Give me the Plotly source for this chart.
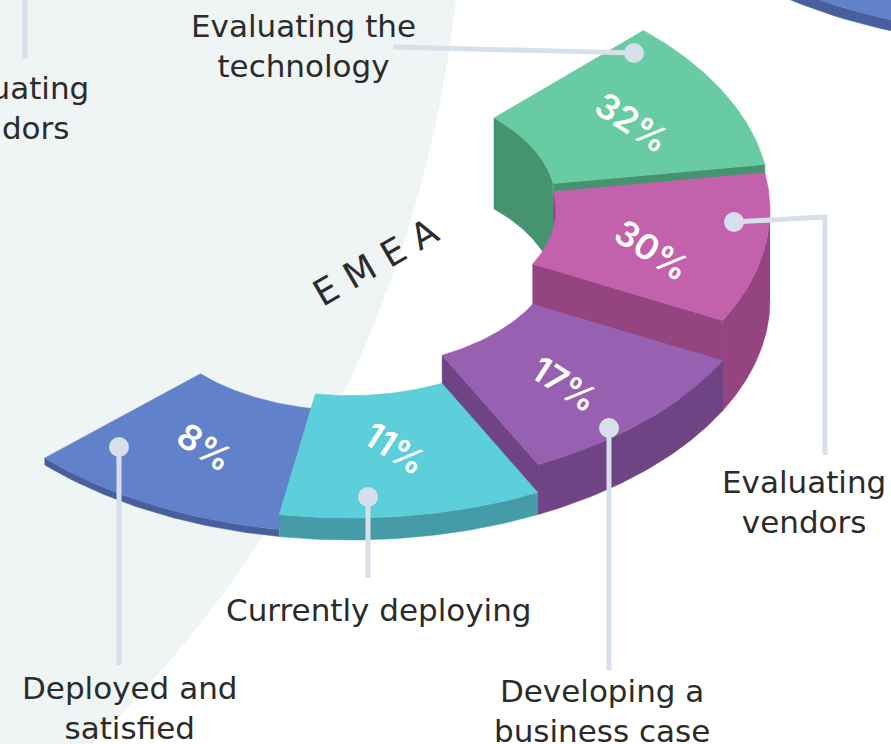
#!/usr/bin/env python3
# plot.py - EMEA isometric ring, drawn as filled polygons on hidden pixel axes

import numpy as np
import plotly.graph_objects as go

W, H = 891, 744

# Data, from the far end of the ring round to its near end
stages = ["Evaluating the<br>technology", "Evaluating<br>vendors", "Developing a<br>business case",
          "Currently deploying", "Deployed and<br>satisfied"]
percent = [32, 30, 17, 11, 8]
# block height of each slice in px (not linear in the share in the original)
extrusion = [98, 90, 50, 22, 7]
slice_edges = [-45.7, -9.0, 27.4, 63.4, 99.7, 136.6]

top_colors = ["#69CBA4", "#C361AD", "#9760B1", "#5CCFDA", "#6182CB"]
side_colors = ["#46946F", "#94447F", "#6F4485", "#459CA8", "#47609D"]
leader_color = "#D7E0EA"
text_color = "#2B2B2B"

# Ring geometry (isometric circle)
CX, CY, RX, RY, INNER = 350, 300, 420, 240, 0.49
INNER_FLOOR = 7
FONT = "DejaVu Sans"


def project(t, r, h, cx=CX, cy=CY):
    t = np.radians(t)
    return cx + RX * r * np.cos(t), cy - h + RY * r * np.sin(t)


def poly(fig, xs, ys, color):
    fig.add_trace(go.Scatter(x=xs, y=ys, mode="lines", fill="toself", fillcolor=color,
                             line=dict(color=color, width=0.5), hoverinfo="skip", showlegend=False))


def band(t0, t1, r, h0, h1, cx=CX, cy=CY):
    # vertical wall following an arc
    ts = np.linspace(t0, t1, 50)
    x0, y0 = project(ts, r, h0, cx, cy)
    x1, y1 = project(ts[::-1], r, h1, cx, cy)
    return np.r_[x0, x1], np.r_[y0, y1]


def top_face(t0, t1, h, cx=CX, cy=CY):
    ts = np.linspace(t0, t1, 60)
    x0, y0 = project(ts, 1, h, cx, cy)
    x1, y1 = project(ts[::-1], INNER, h, cx, cy)
    return np.r_[x0, x1], np.r_[y0, y1]


def radial_wall(t, h):
    # flat end of a slice, seen where the next slice is lower
    corners = [project(t, INNER, 0), project(t, INNER, h), project(t, 1, h), project(t, 1, 0)]
    return [c[0] for c in corners], [c[1] for c in corners]


fig = go.Figure()

# Back to front: green, magenta, purple, then blue before cyan so cyan overlaps it
for i in [0, 1, 2, 4, 3]:
    t0, t1 = slice_edges[i], slice_edges[i + 1]
    h = extrusion[i]
    if t1 > 0:
        xs, ys = band(max(t0, 0), t1, 1, 0, h)
        poly(fig, xs, ys, side_colors[i])
    if t0 < 0:
        xs, ys = band(t0, min(t1, 0), INNER, INNER_FLOOR, h)
        poly(fig, xs, ys, side_colors[i])
    if abs(t1) < 90:
        xs, ys = radial_wall(t1, h)
        poly(fig, xs, ys, side_colors[i])
    xs, ys = top_face(t0, t1, h)
    poly(fig, xs, ys, top_colors[i])

# Sliver of the neighbouring ring, top right corner
xs, ys = band(60, 145, 1, 0, 11, 1038, -194)
poly(fig, xs, ys, "#47609D")
xs, ys = top_face(60, 145, 11, 1038, -194)
poly(fig, xs, ys, "#6182CB")

# Leaders: (points of the line), dot is the last one
leaders = [
    ([393, 634], [47, 53]),
    ([825, 825, 734], [455, 217, 222]),
    ([609, 609], [670, 428]),
    ([368, 368], [578, 497]),
    ([119, 119], [665, 447]),
]
for lx, ly in leaders:
    fig.add_trace(go.Scatter(x=lx, y=ly, mode="lines", line=dict(color=leader_color, width=5),
                             hoverinfo="skip", showlegend=False))
    fig.add_trace(go.Scatter(x=lx[-1:], y=ly[-1:], mode="markers",
                             marker=dict(color=leader_color, size=20), hoverinfo="skip", showlegend=False))
fig.add_trace(go.Scatter(x=[25, 25], y=[0, 59], mode="lines", line=dict(color=leader_color, width=5),
                         hoverinfo="skip", showlegend=False))

label_pos = [(303, 46), (804, 502), (602, 711), (379, 610), (129, 708)]
annotations = []
for text, (x, y) in zip(stages, label_pos):
    annotations.append(dict(x=x, y=y, text=text, showarrow=False, xanchor="center", yanchor="middle",
                            font=dict(family=FONT, size=31, color=text_color)))
annotations.append(dict(x=7, y=108, text="Evaluating<br>vendors", showarrow=False, xanchor="center",
                        yanchor="middle", font=dict(family=FONT, size=31, color=text_color)))
annotations.append(dict(x=375, y=262, text="E\u2004M\u2004E\u2004A", showarrow=False, textangle=-30,
                        font=dict(family=FONT, size=36, color=text_color)))

# nudges so the percent labels sit where the original put them
label_shift = [(10, 0), (0, 12), (0, 9), (0, -3), (0, 0)]
for i, p in enumerate(percent):
    tm = (slice_edges[i] + slice_edges[i + 1]) / 2
    x, y = project(tm, 0.73, extrusion[i])
    annotations.append(dict(x=float(x) + label_shift[i][0], y=float(y) + label_shift[i][1], text=f"{p}%",
                            showarrow=False, textangle=33,
                            font=dict(family="Inter", size=35, color="white", weight=600)))

fig.update_layout(
    width=W, height=H, margin=dict(l=0, r=0, t=0, b=0),
    paper_bgcolor="white", plot_bgcolor="white",
    xaxis=dict(range=[0, W], visible=False, fixedrange=True),
    yaxis=dict(range=[H, 0], visible=False, fixedrange=True),
    annotations=annotations,
    shapes=[dict(type="circle", layer="below", xref="x", yref="y",
                 x0=-761.7 - 1225, x1=-761.7 + 1225, y0=-134.7 - 1225, y1=-134.7 + 1225,
                 fillcolor="#EFF4F5", line=dict(width=0))],
)

fig.write_html("out.html", config=dict(displayModeBar=False),
               post_script="document.body.style.margin='0';document.body.style.overflow='hidden';")
